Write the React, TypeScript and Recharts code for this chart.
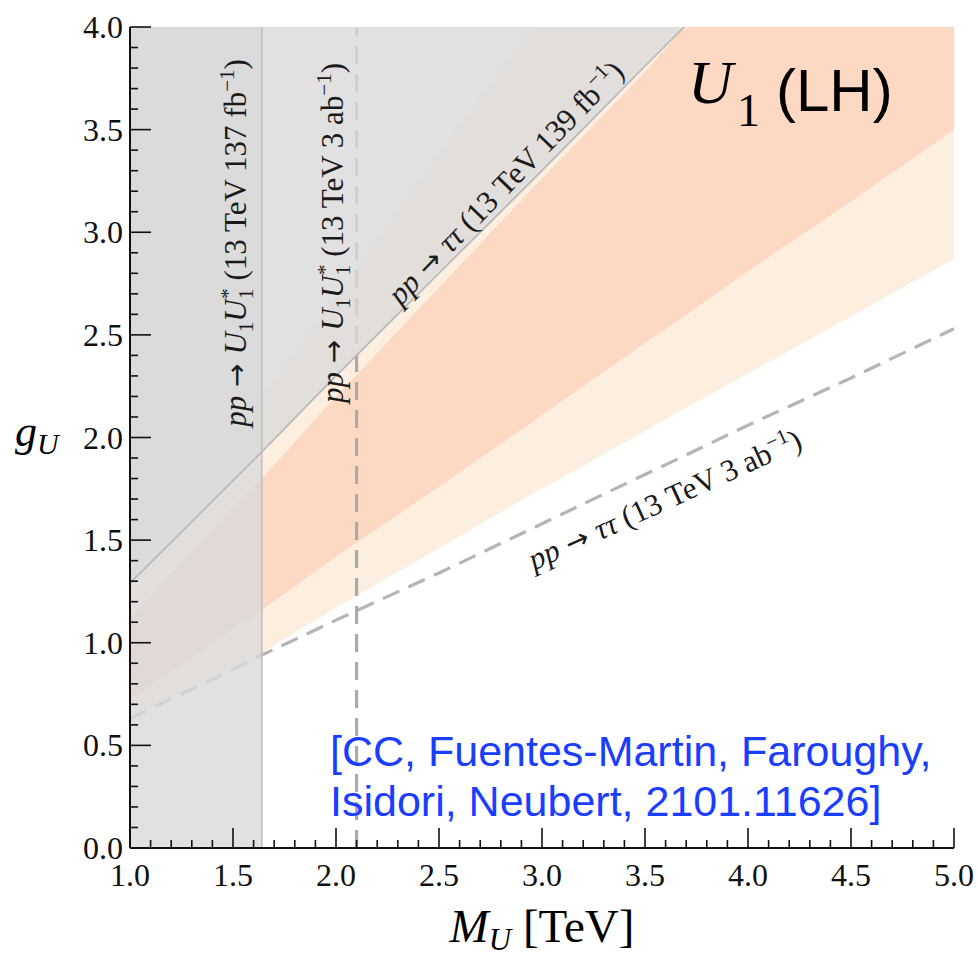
import React from "react";
import {
  ComposedChart,
  Area,
  Line,
  XAxis,
  YAxis,
  ReferenceLine,
} from "recharts";

const massTeV = [1.0, 1.5, 1.64, 2.0, 2.5, 2.96, 3.0, 3.5, 3.69, 4.0, 4.5, 5.0];
// 2 sigma fit band (light)
const fit2sLow = [0.64, 0.88, 0.95, 1.17, 1.46, 1.73, 1.75, 2.03, 2.14, 2.31, 2.59, 2.87];
const fit2sHigh = [1.34, 2.0, 2.19, 2.68, 3.38, 4.0, 4.0, 4.0, 4.0, 4.0, 4.0, 4.0];
// 1 sigma fit band (orange)
const fit1sLow = [0.72, 1.07, 1.16, 1.42, 1.76, 2.08, 2.11, 2.46, 2.59, 2.81, 3.15, 3.5];
const fit1sHigh = [1.12, 1.66, 1.8, 2.2, 2.73, 3.22, 3.26, 3.78, 4.0, 4.0, 4.0, 4.0];
// pp -> tau tau limits
const tautau139 = [1.29, 1.79, 1.93, 2.3, 2.8, 3.26, 3.3, 3.81, 4.0, null, null, null];
const tautau3ab = [0.63, 0.87, 0.94, 1.11, 1.34, 1.56, 1.58, 1.82, 1.91, 2.06, 2.29, 2.53];
// pair production limits (M_U)
const pairLimit137 = 1.64;
const pairLimit3ab = 2.1;
const gMax = 4.0;

const xTicks = [
  1.0, 1.1, 1.2, 1.3, 1.4, 1.5, 1.6, 1.7, 1.8, 1.9, 2.0, 2.1, 2.2, 2.3, 2.4, 2.5, 2.6, 2.7, 2.8, 2.9, 3.0,
  3.1, 3.2, 3.3, 3.4, 3.5, 3.6, 3.7, 3.8, 3.9, 4.0, 4.1, 4.2, 4.3, 4.4, 4.5, 4.6, 4.7, 4.8, 4.9, 5.0,
];
const xMajor = [1.0, 1.5, 2.0, 2.5, 3.0, 3.5, 4.0, 4.5, 5.0];
const yTicks = [
  0.0, 0.1, 0.2, 0.3, 0.4, 0.5, 0.6, 0.7, 0.8, 0.9, 1.0, 1.1, 1.2, 1.3, 1.4, 1.5, 1.6, 1.7, 1.8, 1.9, 2.0,
  2.1, 2.2, 2.3, 2.4, 2.5, 2.6, 2.7, 2.8, 2.9, 3.0, 3.1, 3.2, 3.3, 3.4, 3.5, 3.6, 3.7, 3.8, 3.9, 4.0,
];
const yMajor = [0.0, 0.5, 1.0, 1.5, 2.0, 2.5, 3.0, 3.5, 4.0];

const rows = massTeV.map((m, i) => ({
  m,
  fit2s: [fit2sLow[i], fit2sHigh[i]],
  fit1s: [fit1sLow[i], fit1sHigh[i]],
  pair: m <= pairLimit137 ? [0, gMax] : null,
  excl: tautau139[i] == null ? null : [tautau139[i], gMax],
  tt139: tautau139[i],
  tt3ab: tautau3ab[i],
}));

const SERIF = "'Liberation Serif', 'DejaVu Serif', serif";
const SANS = "'Liberation Sans', Arial, sans-serif";
const ARROW = "'DejaVu Sans', sans-serif";
const TICK = "#111";
const GREY_FILL = "#dadada";
const GREY_OPACITY = 0.8;

const isIn = (v: number, list: number[]) => list.some((t) => Math.abs(t - v) < 1e-9);

const BottomTick = (props: any) => {
  const { x, y, payload } = props;
  const major = isIn(payload.value, xMajor);
  return (
    <g>
      <line x1={x} x2={x} y1={y} y2={y - (major ? 20 : 8)} stroke={TICK} strokeWidth={1.6} />
      {major && (
        <text x={x} y={y + 38} textAnchor="middle" fontFamily={SERIF} fontSize={32} fill="#111">
          {payload.value.toFixed(1)}
        </text>
      )}
    </g>
  );
};

const TopTick = (props: any) => {
  const { x, y, payload } = props;
  const major = isIn(payload.value, xMajor);
  return <line x1={x} x2={x} y1={y} y2={y + (major ? 20 : 8)} stroke={TICK} strokeWidth={1.6} />;
};

const LeftTick = (props: any) => {
  const { x, y, payload } = props;
  const major = isIn(payload.value, yMajor);
  return (
    <g>
      <line x1={x} x2={x + (major ? 21 : 8)} y1={y} y2={y} stroke={TICK} strokeWidth={1.6} />
      {major && (
        <text x={x - 7} y={y + 11} textAnchor="end" fontFamily={SERIF} fontSize={32} fill="#111">
          {payload.value.toFixed(1)}
        </text>
      )}
    </g>
  );
};

const RightTick = (props: any) => {
  const { x, y, payload } = props;
  const major = isIn(payload.value, yMajor);
  return <line x1={x} x2={x - (major ? 21 : 8)} y1={y} y2={y} stroke={TICK} strokeWidth={1.6} />;
};

const axisLine = { stroke: "#111", strokeWidth: 2 };

function Overlay() {
  const lab = { fontFamily: SERIF, fontSize: 31, fill: "#1a1a1a" } as const;
  const arrow = <tspan fontFamily={ARROW} fontSize={28}> → </tspan>;
  return (
    <svg
      width={979}
      height={960}
      style={{ position: "absolute", left: 0, top: 0, pointerEvents: "none" }}
    >
      {/* vertical label, 137 fb^-1 pair production */}
      <text transform="translate(246,243) rotate(-90)" textAnchor="middle" {...lab}>
        <tspan fontStyle="italic">pp</tspan>
        {arrow}
        <tspan fontStyle="italic">U</tspan>
        <tspan fontSize={21} dy={7}>1</tspan>
        <tspan fontStyle="italic" dy={-7}>U</tspan>
        <tspan fontSize={21} dy={7}>1</tspan>
        <tspan fontSize={21} dx={-10} dy={-18}>*</tspan>
        <tspan dy={11}> (13 TeV 137 fb</tspan>
        <tspan fontSize={21} dy={-12}>−1</tspan>
        <tspan dy={12}>)</tspan>
      </text>
      {/* vertical label, 3 ab^-1 pair production */}
      <text transform="translate(343,233) rotate(-90)" textAnchor="middle" {...lab}>
        <tspan fontStyle="italic">pp</tspan>
        {arrow}
        <tspan fontStyle="italic">U</tspan>
        <tspan fontSize={21} dy={7}>1</tspan>
        <tspan fontStyle="italic" dy={-7}>U</tspan>
        <tspan fontSize={21} dy={7}>1</tspan>
        <tspan fontSize={21} dx={-10} dy={-18}>*</tspan>
        <tspan dy={11}> (13 TeV 3 ab</tspan>
        <tspan fontSize={21} dy={-12}>−1</tspan>
        <tspan dy={12}>)</tspan>
      </text>
      {/* tau tau 139 fb^-1 */}
      <text transform="translate(513,190) rotate(-46)" textAnchor="middle" {...lab}>
        <tspan fontStyle="italic">pp</tspan>
        {arrow}
        <tspan fontStyle="italic">ττ</tspan>
        <tspan> (13 TeV 139 fb</tspan>
        <tspan fontSize={21} dy={-12}>−1</tspan>
        <tspan dy={12}>)</tspan>
      </text>
      {/* tau tau 3 ab^-1 */}
      <text transform="translate(669,509) rotate(-24.5)" textAnchor="middle" {...lab}>
        <tspan fontStyle="italic">pp</tspan>
        {arrow}
        <tspan fontStyle="italic">ττ</tspan>
        <tspan> (13 TeV 3 ab</tspan>
        <tspan fontSize={21} dy={-12}>−1</tspan>
        <tspan dy={12}>)</tspan>
      </text>

      {/* title */}
      <text x={688} y={103} fontFamily={SERIF} fontStyle="italic" fontSize={62} fill="#000">
        U
      </text>
      <text x={737} y={126} fontFamily={SERIF} fontSize={46} fill="#000">
        1
      </text>
      <text x={776} y={111} fontFamily={SANS} fontSize={60} fill="#000">
        (LH)
      </text>

      {/* reference */}
      <text x={330} y={766} fontFamily={SANS} fontSize={43} fill="#1a3eff">
        [CC, Fuentes-Martin, Faroughy,
      </text>
      <text x={330} y={816} fontFamily={SANS} fontSize={43} fill="#1a3eff">
        Isidori, Neubert, 2101.11626]
      </text>

      {/* axis titles */}
      <text x={15} y={446} fontFamily={SERIF} fontSize={44} fill="#000">
        <tspan fontStyle="italic">g</tspan>
        <tspan fontStyle="italic" fontSize={30} dy={8}>U</tspan>
      </text>
      <text x={542} y={942} textAnchor="middle" fontFamily={SERIF} fontSize={47} fill="#000">
        <tspan fontStyle="italic">M</tspan>
        <tspan fontStyle="italic" fontSize={31} dy={8}>U</tspan>
        <tspan dy={-8}> [TeV]</tspan>
      </text>
    </svg>
  );
}

export default function App() {
  return (
    <div style={{ position: "absolute", left: 0, top: 0, width: 979, height: 960, background: "#fff" }}>
      <ComposedChart
        width={979}
        height={960}
        data={rows}
        margin={{ top: 27, right: 25, left: 0, bottom: 0 }}
      >
        <XAxis
          dataKey="m"
          type="number"
          domain={[1, 5]}
          allowDataOverflow
          ticks={xTicks}
          interval={0}
          tickSize={0}
          tickMargin={0}
          tickLine={false}
          height={112}
          axisLine={axisLine}
          tick={BottomTick}
        />
        <XAxis
          xAxisId="top"
          orientation="top"
          type="number"
          domain={[1, 5]}
          allowDataOverflow
          ticks={xTicks}
          interval={0}
          tickSize={0}
          tickMargin={0}
          tickLine={false}
          height={0}
          axisLine={axisLine}
          tick={TopTick}
        />
        <YAxis
          type="number"
          domain={[0, 4]}
          allowDataOverflow
          ticks={yTicks}
          interval={0}
          tickSize={0}
          tickMargin={0}
          tickLine={false}
          width={130}
          axisLine={axisLine}
          tick={LeftTick}
        />
        <YAxis
          yAxisId="right"
          orientation="right"
          type="number"
          domain={[0, 4]}
          allowDataOverflow
          ticks={yTicks}
          interval={0}
          tickSize={0}
          tickMargin={0}
          tickLine={false}
          width={0}
          axisLine={axisLine}
          tick={RightTick}
        />

        <Area
          dataKey="fit2s"
          type="linear"
          stroke="none"
          fill="#fcefdf"
          fillOpacity={1}
          isAnimationActive={false}
          activeDot={false}
          zIndex={100}
        />
        <Area
          dataKey="fit1s"
          type="linear"
          stroke="none"
          fill="#fdd8c2"
          fillOpacity={1}
          isAnimationActive={false}
          activeDot={false}
          zIndex={101}
        />
        <Line
          dataKey="tt3ab"
          type="linear"
          stroke="#b5b5b5"
          strokeWidth={3.2}
          strokeDasharray="18 10"
          dot={false}
          activeDot={false}
          isAnimationActive={false}
          zIndex={102}
        />
        <ReferenceLine
          x={pairLimit3ab}
          stroke="#ababab"
          strokeWidth={3.2}
          strokeDasharray="18 10"
          zIndex={102}
        />
        <Area
          dataKey="pair"
          type="linear"
          stroke="none"
          fill={GREY_FILL}
          fillOpacity={GREY_OPACITY}
          isAnimationActive={false}
          activeDot={false}
          zIndex={103}
        />
        <Area
          dataKey="excl"
          type="linear"
          stroke="none"
          fill={GREY_FILL}
          fillOpacity={GREY_OPACITY}
          isAnimationActive={false}
          activeDot={false}
          zIndex={104}
        />
        <Line
          dataKey="tt139"
          type="linear"
          stroke="#b4b6b8"
          strokeWidth={1.6}
          dot={false}
          activeDot={false}
          isAnimationActive={false}
          zIndex={105}
        />
        <ReferenceLine x={pairLimit137} stroke="#bfbfbf" strokeWidth={1.6} zIndex={105} />
      </ComposedChart>
      <Overlay />
    </div>
  );
}
